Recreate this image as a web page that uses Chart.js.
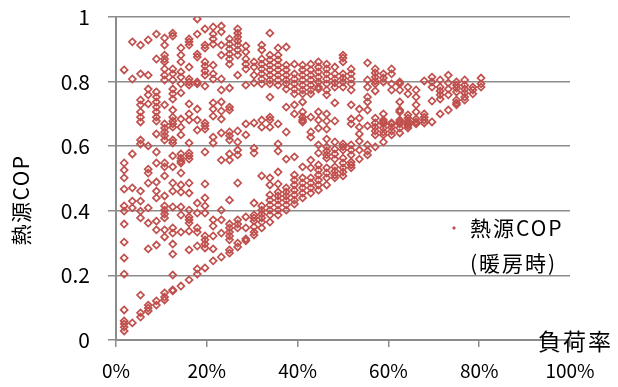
<!DOCTYPE html>
<html>
<head>
<meta charset="utf-8">
<script src="https://cdn.jsdelivr.net/npm/chart.js@4/dist/chart.umd.min.js"></script>
<style>
  html, body { margin: 0; padding: 0; background: #fff; }
  #wrap { width: 618px; height: 387px; }
</style>
</head>
<body>
<div id="wrap"><canvas id="copChart"></canvas></div>
<script>
// load ratio of each measured column (%)
const loadRatio = [1.8, 3.6, 5.4, 7.1, 8.9, 10.7, 12.5, 14.3, 16.1, 17.9, 19.6, 21.4, 23.2, 25.0, 26.8,
  28.6, 30.4, 32.1, 33.9, 35.7, 37.5, 39.3, 41.1, 42.9, 44.6, 46.4, 48.2, 50.0, 51.8, 53.6,
  55.4, 57.1, 58.9, 60.7, 62.5, 64.3, 66.1, 67.9, 69.6, 71.4, 73.2, 75.0, 76.8, 78.6, 80.4];

// heat source COP readings, one list per load ratio column
const copByLoad = [
  [0.836, 0.548, 0.526, 0.502, 0.467, 0.415, 0.399, 0.359, 0.303, 0.254, 0.204, 0.093, 0.059, 0.050, 0.040, 0.028],
  [0.923, 0.808, 0.576, 0.471, 0.430, 0.409, 0.053],
  [0.913, 0.824, 0.743, 0.728, 0.706, 0.690, 0.675, 0.619, 0.607, 0.461, 0.430, 0.399, 0.378, 0.139, 0.084, 0.071],
  [0.929, 0.820, 0.777, 0.759, 0.731, 0.601, 0.529, 0.517, 0.486, 0.409, 0.362, 0.282, 0.108, 0.099, 0.090],
  [0.947, 0.870, 0.768, 0.752, 0.737, 0.721, 0.706, 0.690, 0.678, 0.638, 0.582, 0.548, 0.489, 0.461, 0.440, 0.368, 0.341, 0.294, 0.121, 0.108],
  [0.935, 0.913, 0.882, 0.870, 0.861, 0.839, 0.820, 0.805, 0.728, 0.669, 0.656, 0.644, 0.632, 0.619, 0.548, 0.536, 0.508, 0.446, 0.415, 0.402, 0.390, 0.378, 0.341, 0.319, 0.146, 0.133, 0.124],
  [0.950, 0.941, 0.839, 0.824, 0.805, 0.777, 0.762, 0.746, 0.712, 0.690, 0.678, 0.669, 0.659, 0.619, 0.610, 0.570, 0.536, 0.486, 0.461, 0.412, 0.347, 0.331, 0.297, 0.266, 0.201, 0.155, 0.152],
  [0.904, 0.882, 0.861, 0.830, 0.814, 0.793, 0.765, 0.684, 0.659, 0.635, 0.576, 0.563, 0.554, 0.548, 0.517, 0.480, 0.458, 0.412, 0.387, 0.334, 0.167],
  [0.932, 0.923, 0.913, 0.845, 0.808, 0.799, 0.789, 0.731, 0.700, 0.681, 0.610, 0.579, 0.570, 0.560, 0.486, 0.455, 0.402, 0.381, 0.372, 0.362, 0.337, 0.279, 0.186],
  [0.994, 0.947, 0.885, 0.876, 0.799, 0.793, 0.715, 0.681, 0.650, 0.424, 0.393, 0.347, 0.334, 0.291, 0.220, 0.204],
  [0.963, 0.913, 0.904, 0.861, 0.848, 0.833, 0.820, 0.786, 0.672, 0.663, 0.653, 0.582, 0.483, 0.440, 0.415, 0.393, 0.322, 0.310, 0.297, 0.285, 0.223],
  [0.969, 0.947, 0.932, 0.916, 0.851, 0.824, 0.808, 0.734, 0.715, 0.693, 0.628, 0.610, 0.372, 0.353, 0.322, 0.282, 0.245],
  [0.972, 0.954, 0.913, 0.882, 0.808, 0.774, 0.737, 0.709, 0.684, 0.641, 0.557, 0.402, 0.372, 0.331, 0.257],
  [0.932, 0.916, 0.901, 0.885, 0.870, 0.854, 0.780, 0.721, 0.712, 0.644, 0.632, 0.619, 0.576, 0.557, 0.433, 0.359, 0.347, 0.334, 0.322, 0.310, 0.279, 0.269],
  [0.963, 0.950, 0.938, 0.926, 0.913, 0.898, 0.882, 0.820, 0.647, 0.613, 0.588, 0.573, 0.486, 0.372, 0.359, 0.347, 0.300, 0.288],
  [0.910, 0.892, 0.870, 0.854, 0.839, 0.789, 0.669, 0.635, 0.381, 0.347, 0.313, 0.307],
  [0.861, 0.845, 0.820, 0.796, 0.672, 0.594, 0.579, 0.424, 0.387, 0.378, 0.368, 0.350, 0.334, 0.325],
  [0.913, 0.898, 0.870, 0.854, 0.839, 0.824, 0.808, 0.793, 0.681, 0.659, 0.508, 0.415, 0.402, 0.390, 0.378, 0.365, 0.347],
  [0.950, 0.882, 0.867, 0.851, 0.836, 0.820, 0.805, 0.793, 0.752, 0.690, 0.681, 0.659, 0.502, 0.480, 0.449, 0.433, 0.418, 0.402, 0.387, 0.365],
  [0.904, 0.882, 0.867, 0.851, 0.836, 0.820, 0.805, 0.789, 0.669, 0.607, 0.585, 0.520, 0.483, 0.458, 0.446, 0.433, 0.418, 0.402, 0.387],
  [0.907, 0.851, 0.836, 0.820, 0.805, 0.793, 0.777, 0.721, 0.644, 0.560, 0.471, 0.458, 0.446, 0.433, 0.418, 0.402],
  [0.854, 0.824, 0.808, 0.793, 0.777, 0.762, 0.728, 0.700, 0.567, 0.511, 0.495, 0.480, 0.464, 0.449, 0.433, 0.421],
  [0.851, 0.836, 0.820, 0.805, 0.789, 0.774, 0.762, 0.737, 0.706, 0.690, 0.681, 0.675, 0.536, 0.502, 0.486, 0.471, 0.455, 0.440],
  [0.854, 0.836, 0.820, 0.805, 0.789, 0.774, 0.762, 0.690, 0.644, 0.628, 0.557, 0.533, 0.502, 0.486, 0.471, 0.455],
  [0.861, 0.845, 0.830, 0.814, 0.799, 0.783, 0.777, 0.706, 0.681, 0.656, 0.604, 0.579, 0.542, 0.526, 0.511, 0.495, 0.480, 0.464],
  [0.854, 0.839, 0.824, 0.808, 0.793, 0.774, 0.759, 0.700, 0.678, 0.653, 0.622, 0.598, 0.585, 0.573, 0.563, 0.533, 0.517, 0.502, 0.480],
  [0.845, 0.824, 0.808, 0.796, 0.783, 0.734, 0.678, 0.613, 0.591, 0.576, 0.560, 0.536, 0.523, 0.511, 0.502],
  [0.882, 0.873, 0.861, 0.824, 0.811, 0.799, 0.783, 0.607, 0.598, 0.588, 0.563, 0.548, 0.533, 0.520, 0.508],
  [0.839, 0.824, 0.808, 0.793, 0.774, 0.728, 0.684, 0.669, 0.604, 0.588, 0.573, 0.551, 0.542, 0.533],
  [0.715, 0.687, 0.659, 0.638, 0.616, 0.588, 0.560],
  [0.858, 0.805, 0.783, 0.752, 0.737, 0.712, 0.663, 0.604, 0.585, 0.573],
  [0.839, 0.827, 0.814, 0.802, 0.793, 0.771, 0.687, 0.672, 0.659, 0.647, 0.635, 0.598],
  [0.824, 0.811, 0.799, 0.700, 0.681, 0.675, 0.669, 0.656, 0.644, 0.635, 0.613],
  [0.839, 0.824, 0.793, 0.774, 0.672, 0.669, 0.659, 0.647, 0.635],
  [0.799, 0.793, 0.774, 0.737, 0.712, 0.706, 0.681, 0.675, 0.669, 0.656, 0.641],
  [0.783, 0.762, 0.697, 0.687, 0.678, 0.672, 0.669, 0.663, 0.656],
  [0.774, 0.752, 0.728, 0.706, 0.684, 0.675, 0.669],
  [0.802, 0.700, 0.690, 0.681, 0.672],
  [0.814, 0.799, 0.783, 0.740, 0.675],
  [0.805, 0.783, 0.771, 0.759, 0.746, 0.700],
  [0.820, 0.796, 0.777, 0.759, 0.712],
  [0.799, 0.789, 0.780, 0.768, 0.743, 0.734, 0.728],
  [0.805, 0.789, 0.777, 0.765, 0.752, 0.743],
  [0.783, 0.774, 0.762],
  [0.811, 0.793, 0.783]
];

const seriesLabel = ['熱源COP', '(暖房時)'];
const xTitle = '負荷率';
const yTitle = '熱源COP';

const markerColor = '#C0504D';
const gridColor = '#8C8C8C';
const fontFamily = '"Noto Sans CJK JP", "Noto Sans", sans-serif';

const points = loadRatio.flatMap((x, i) => copByLoad[i].map(y => ({ x: x, y: y })));

// legend block and both axis titles are placed by hand
const extraText = {
  id: 'extraText',
  afterDraw(chart) {
    const ctx = chart.ctx;
    ctx.save();
    ctx.fillStyle = '#000';
    ctx.textBaseline = 'middle';
    ctx.textAlign = 'left';

    ctx.font = '21px ' + fontFamily;
    ctx.letterSpacing = '2px';
    ctx.fillText(seriesLabel[0], 470, 228);
    ctx.fillText(seriesLabel[1], 470, 263);

    ctx.fillStyle = markerColor;
    ctx.beginPath();
    ctx.moveTo(454, 226);
    ctx.lineTo(456, 228);
    ctx.lineTo(454, 230);
    ctx.lineTo(452, 228);
    ctx.closePath();
    ctx.fill();

    ctx.fillStyle = '#000';
    ctx.font = '23px ' + fontFamily;
    ctx.letterSpacing = '2px';
    ctx.fillText(xTitle, 538, 341);

    ctx.font = '21px ' + fontFamily;
    ctx.letterSpacing = '1.5px';
    ctx.translate(21, 200);
    ctx.rotate(-Math.PI / 2);
    ctx.textAlign = 'center';
    ctx.fillText(yTitle, 0, 0);
    ctx.restore();
  }
};

Chart.defaults.font.family = fontFamily;
Chart.defaults.color = '#000';

new Chart(document.getElementById('copChart'), {
  type: 'scatter',
  data: {
    datasets: [{
      label: seriesLabel.join(''),
      data: points,
      pointStyle: 'rectRot',
      pointRadius: 3.5,
      pointBorderWidth: 1.7,
      borderColor: markerColor,
      backgroundColor: 'rgba(255,255,255,0)'
    }]
  },
  options: {
    responsive: true,
    maintainAspectRatio: false,
    animation: false,
    devicePixelRatio: 1,
    layout: { padding: { top: 17, right: 48, left: 0, bottom: 0 } },
    plugins: {
      legend: { display: false },
      tooltip: { enabled: false }
    },
    scales: {
      x: {
        type: 'linear',
        min: 0,
        max: 100,
        afterFit: s => { s.height = 47; },
        ticks: {
          stepSize: 20,
          padding: 12,
          font: { size: 19 },
          callback: v => v + '%'
        },
        grid: {
          drawOnChartArea: false,
          drawTicks: true,
          tickLength: 7,
          color: gridColor,
          lineWidth: 1.5
        },
        border: { color: gridColor, width: 2 }
      },
      y: {
        min: 0,
        max: 1,
        afterFit: s => { s.width = 116; s.paddingTop = 0; s.paddingBottom = 0; },
        ticks: {
          stepSize: 0.2,
          padding: 18,
          font: { size: 21 },
          callback: v => String(+v.toFixed(1))
        },
        grid: {
          color: gridColor,
          lineWidth: 1.5,
          tickLength: 8
        },
        border: { color: gridColor, width: 2 }
      }
    }
  },
  plugins: [extraText]
});
</script>
</body>
</html>
